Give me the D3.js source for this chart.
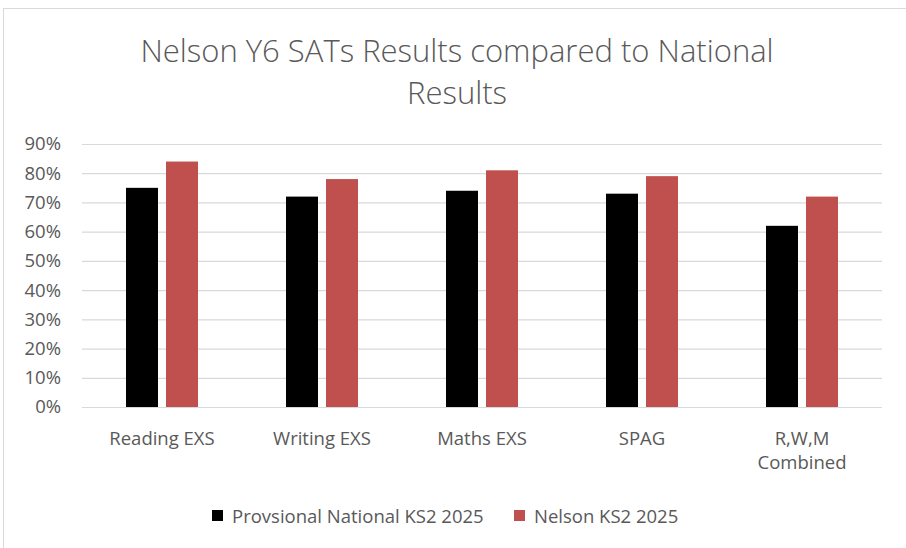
<!DOCTYPE html>
<html>
<head>
<meta charset="utf-8">
<script src="https://cdn.jsdelivr.net/npm/d3@7"></script>
<style>
  body { margin: 0; background: #fff; }
  text { font-family: "Open Sans", sans-serif; fill: #595959; }
</style>
</head>
<body>
<div id="chart"></div>
<script>
var categories = [['Reading EXS'], ['Writing EXS'], ['Maths EXS'], ['SPAG'], ['R,W,M', 'Combined']];
var seriesNames = ['Provsional National KS2 2025', 'Nelson KS2 2025'];
var national = [0.75, 0.72, 0.74, 0.73, 0.62];
var nelson = [0.84, 0.78, 0.81, 0.79, 0.72];
var yTicks = [0, 0.1, 0.2, 0.3, 0.4, 0.5, 0.6, 0.7, 0.8, 0.9];

var width = 906, height = 548;
var colours = ['#000000', '#c0504d'];
var margin = {left: 82, right: 24, top: 144, bottom: 141};

var svg = d3.select('#chart').append('svg')
    .attr('width', width)
    .attr('height', height);

// chart border (only top and left edges show in the crop)
svg.append('rect')
    .attr('x', 3.5).attr('y', 8.5)
    .attr('width', width + 10).attr('height', height + 10)
    .attr('fill', 'none')
    .attr('stroke', '#d9d9d9');

svg.append('text')
    .attr('x', 457).attr('y', 62)
    .attr('text-anchor', 'middle')
    .style('font-size', '31px').style('font-weight', 300)
    .text('Nelson Y6 SATs Results  compared to National');
svg.append('text')
    .attr('x', 457).attr('y', 104)
    .attr('text-anchor', 'middle')
    .style('font-size', '31px').style('font-weight', 300)
    .text('Results');

var x = d3.scaleBand()
    .domain(d3.range(categories.length))
    .range([margin.left, width - margin.right]);

var x1 = d3.scaleBand()
    .domain([0, 1])
    .range([0, x.bandwidth()])
    .paddingInner(0.2)
    .paddingOuter(1.1);

var y = d3.scaleLinear()
    .domain([0, 0.9])
    .range([height - margin.bottom, margin.top]);

var grid = svg.append('g')
    .attr('transform', 'translate(' + margin.left + ',0)')
    .call(d3.axisLeft(y).tickValues(yTicks)
        .tickSize(-(width - margin.left - margin.right))
        .tickFormat(d3.format('.0%')));
grid.select('.domain').remove();
grid.selectAll('line').attr('stroke', '#d9d9d9').attr('stroke-width', 1.2);
grid.selectAll('text')
    .attr('x', -21)
    .style('font-size', '18.5px')
    .style('fill', '#595959');

var rows = categories.map(function(c, i) {
    return [national[i], nelson[i]];
});

var groups = svg.append('g').selectAll('g')
    .data(rows)
    .enter()
    .append('g')
    .attr('transform', function(d, i) {
        return 'translate(' + x(i) + ',0)';
    });

groups.selectAll('rect')
    .data(function(d) { return d; })
    .enter()
    .append('rect')
    .attr('x', function(d, j) { return x1(j); })
    .attr('width', x1.bandwidth())
    .attr('y', function(d) { return y(d); })
    .attr('height', function(d) { return y(0) - y(d); })
    .attr('fill', function(d, j) { return colours[j]; });

var labels = svg.append('g').selectAll('text')
    .data(categories)
    .enter()
    .append('text')
    .attr('text-anchor', 'middle')
    .attr('x', function(d, i) { return x(i) + x.bandwidth() / 2; })
    .attr('y', 445)
    .style('font-size', '18.5px');

labels.selectAll('tspan')
    .data(function(d) { return d; })
    .enter()
    .append('tspan')
    .attr('x', function() { return d3.select(this.parentNode).attr('x'); })
    .attr('dy', function(d, k) { return k ? 24 : 0; })
    .text(function(d) { return d; });

// legend
var legendX = [212, 514];
var legend = svg.append('g').selectAll('g')
    .data(seriesNames)
    .enter()
    .append('g')
    .attr('transform', function(d, i) {
        return 'translate(' + legendX[i] + ', 510)';
    });

legend.append('rect')
    .attr('width', 11).attr('height', 11)
    .attr('fill', function(d, i) { return colours[i]; });

legend.append('text')
    .attr('x', 20).attr('y', 13)
    .style('font-size', '18.5px')
    .text(function(d) { return d; });
</script>
</body>
</html>
